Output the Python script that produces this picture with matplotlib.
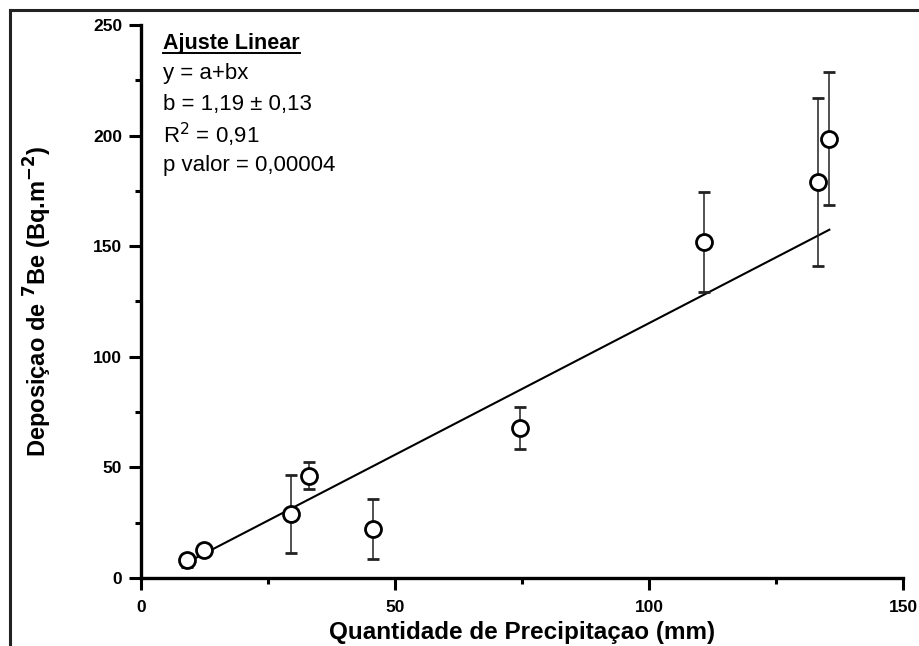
import matplotlib
matplotlib.use('Agg')
import matplotlib.pyplot as plt
from matplotlib.lines import Line2D
from matplotlib.ticker import MultipleLocator

plt.rcParams['font.family'] = ['Liberation Sans', 'DejaVu Sans']

# --- Dados: precipitacao (mm) x deposicao de 7Be (Bq/m2) ---
precipitacao = [9.0, 12.5, 29.5, 33.0, 45.7, 74.6, 110.8, 133.2, 135.4]
deposicao = [8.0, 12.8, 29.0, 46.0, 22.3, 68.0, 151.7, 179.2, 198.5]
erro_inf = [3.0, 2.0, 17.8, 5.8, 13.8, 9.6, 22.3, 38.3, 29.7]
erro_sup = [3.0, 2.0, 17.6, 6.5, 13.4, 9.4, 22.8, 37.6, 30.3]

# Ajuste linear y = a + bx
a_fit = -3.8
b_fit = 1.19
x_fit = [9.0, 135.5]

textos = ['y = a+bx', 'b = 1,19 ± 0,13', r'R$^2$ = 0,91', 'p valor = 0,00004']

fig = plt.figure(figsize=(9.19, 6.46), dpi=100)
ax = fig.add_axes([0.1534, 0.1053, 0.8292, 0.8560])

# borda da figura (esquerda e topo)
fig.add_artist(Line2D([10 / 919, 10 / 919], [0, 1 - 10 / 646], transform=fig.transFigure,
                      color='#222222', lw=2.2))
fig.add_artist(Line2D([10 / 919, 1], [1 - 10 / 646, 1 - 10 / 646], transform=fig.transFigure,
                      color='#222222', lw=2.2))

# reta do ajuste
ax.plot(x_fit, [a_fit + b_fit * x for x in x_fit], color='black', lw=1.5, zorder=2)

# pontos com barras de erro
ax.errorbar(precipitacao, deposicao, yerr=[erro_inf, erro_sup], fmt='o',
            mfc='white', mec='black', mew=2.0, ms=11.5, ecolor='#222222',
            elinewidth=1.1, capsize=4, capthick=1.0, zorder=3)

ax.set_xlim(0, 150)
ax.set_ylim(0, 250)
ax.xaxis.set_major_locator(MultipleLocator(50))
ax.xaxis.set_minor_locator(MultipleLocator(25))
ax.yaxis.set_major_locator(MultipleLocator(50))
ax.yaxis.set_minor_locator(MultipleLocator(25))

for lado in ['top', 'right']:
    ax.spines[lado].set_visible(False)
for lado in ['left', 'bottom']:
    ax.spines[lado].set_linewidth(2.4)

ax.tick_params(which='major', direction='out', length=8.5, width=2.2, labelsize=12.5)
ax.tick_params(which='minor', direction='out', length=4.5, width=2.2)
ax.tick_params(axis='y', which='major', pad=5)
ax.tick_params(axis='x', which='major', pad=7)
for lbl in ax.get_xticklabels() + ax.get_yticklabels():
    lbl.set_fontweight('bold')

ax.set_xlabel('Quantidade de Precipitaçao (mm)', fontsize=17.5, fontweight='bold', labelpad=5)
ax.set_ylabel(r'Deposiçao de $^{\mathbf{7}}$Be (Bq.m$^{\mathbf{-2}}$)', fontsize=17,
              fontweight='bold', labelpad=28)

# caixa de texto do ajuste
titulo = ax.text(0.029, 0.966, 'Ajuste Linear', transform=ax.transAxes, fontsize=15.5,
                 fontweight='bold', va='center', ha='left')
for i, t in enumerate(textos):
    ax.text(0.029, 0.912 - i * 0.0555, t, transform=ax.transAxes, fontsize=16,
            va='center', ha='left')

# sublinhado do titulo
fig.canvas.draw()
bb = titulo.get_window_extent().transformed(ax.transAxes.inverted())
ax.add_line(Line2D([bb.x0, bb.x1], [bb.y0 + 0.002, bb.y0 + 0.002], transform=ax.transAxes,
                   color='black', lw=1.4))

fig.savefig('out.png', dpi=100)
